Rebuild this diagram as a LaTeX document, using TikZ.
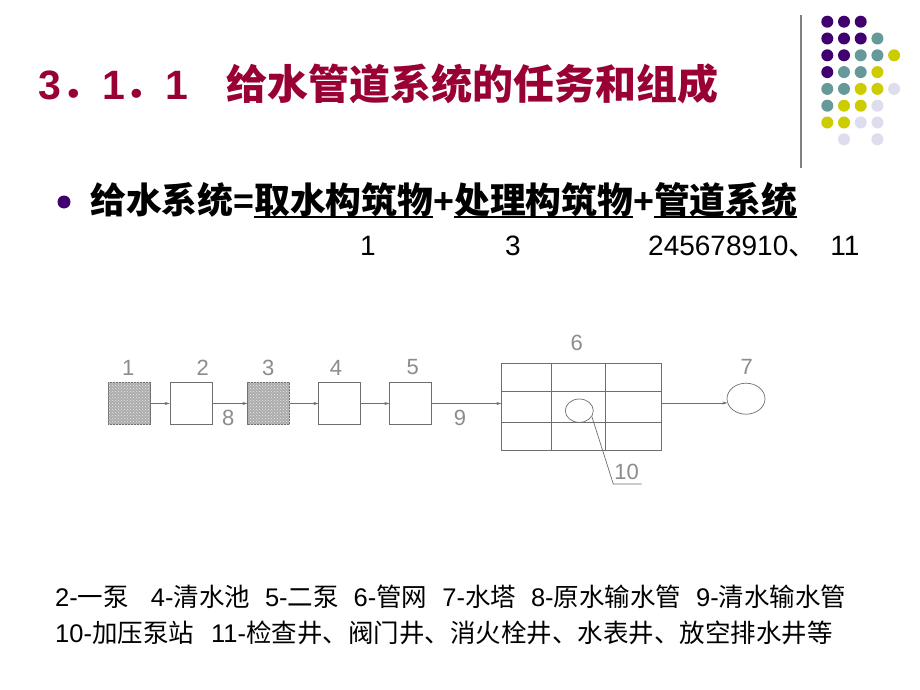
\documentclass[tikz,border=0pt]{standalone}
\usepackage{fontspec}
\setmainfont{Liberation Sans}
\newfontfamily\cjk{Noto Sans CJK SC}
\usetikzlibrary{arrows.meta,patterns,shapes.geometric}
\definecolor{titlered}{RGB}{153,0,51}
\definecolor{dpurple}{RGB}{64,0,112}
\definecolor{dteal}{RGB}{102,153,153}
\definecolor{dyellow}{RGB}{204,204,0}
\definecolor{dlav}{RGB}{221,221,238}
\definecolor{cadline}{RGB}{110,110,110}
\definecolor{cadtext}{RGB}{140,140,140}
\definecolor{cadfill}{RGB}{172,172,172}
\newcommand\myul[1]{\setbox0\hbox{#1}\rlap{\rule[-4.5pt]{\wd0}{1.6pt}}\box0}
\tikzset{
  cadbox/.style={draw=cadline, line width=0.7pt, minimum width=42pt, minimum height=42.5pt, inner sep=0},
  cadfilled/.style={cadbox, fill=cadfill, postaction={pattern=crosshatch dots, pattern color=white!85!gray}},
  cadarrow/.style={draw=cadline, line width=0.6pt, -{Stealth[length=5pt,width=3pt]}},
  cadline/.style={draw=cadline, line width=0.7pt},
  cadlabel/.style={text=cadtext, font=\fontsize{22}{24}\selectfont, inner sep=0},
  dot/.style={circle, inner sep=0, minimum size=12pt}
}
\begin{document}
\begin{tikzpicture}[x=1pt,y=-1pt]
\path[use as bounding box, fill=white] (0,0) rectangle (920,690);

% decoration top right
\draw[gray, line width=1.5pt] (801,15) -- (801,168);
\foreach \c/\r/\col in {
 0/0/dpurple,1/0/dpurple,2/0/dpurple,
 0/1/dpurple,1/1/dpurple,2/1/dpurple,3/1/dteal,
 0/2/dpurple,1/2/dpurple,2/2/dteal,3/2/dteal,4/2/dyellow,
 0/3/dpurple,1/3/dteal,2/3/dteal,3/3/dyellow,
 0/4/dteal,1/4/dteal,2/4/dyellow,3/4/dyellow,4/4/dlav,
 0/5/dteal,1/5/dyellow,2/5/dyellow,3/5/dlav,
 0/6/dyellow,1/6/dyellow,2/6/dlav,3/6/dlav,
 1/7/dlav,3/7/dlav}
 \fill[\col] (827.3+16.7*\c, 21.7+16.8*\r) circle (6pt);

% title
\node[anchor=base west, inner sep=0, text=titlered, font=\fontsize{41}{45}\selectfont\bfseries] (title) at (38,100)
  {3{\cjk ．}1{\cjk ．}1\hspace{38pt}{\cjk 给水管道系统的任务和组成}};

% bullet line
\node[dot, fill=dpurple, minimum size=13pt] (bullet) at (64,202) {};
\node[anchor=base west, inner sep=0, font=\fontsize{35.8}{40}\selectfont\bfseries] (eq) at (90,213)
  {{\cjk 给水系统}=\myul{\cjk 取水构筑物}+\myul{\cjk 处理构筑物}+\myul{\cjk 管道系统}};

% numbers
\node[anchor=base, inner sep=0, font=\fontsize{28}{30}\selectfont] (n1) at (368,255) {1};
\node[anchor=base, inner sep=0, font=\fontsize{28}{30}\selectfont] (n3) at (513,255) {3};
\node[anchor=base west, inner sep=0, font=\fontsize{28}{30}\selectfont] (nrest) at (648,255) {245678910{\cjk 、}\hspace{14pt}11};

% flow diagram
\node[cadfilled] (b1) at (129,403.5) {};
\node[cadbox] (b2) at (191,403.5) {};
\node[cadfilled] (b3) at (268.8,403.5) {};
\node[cadbox] (b4) at (339.8,403.5) {};
\node[cadbox] (b5) at (410.8,403.5) {};
\node[cadbox, minimum width=160pt, minimum height=86.7pt] (grid) at (581.7,406.7) {};
\draw[cadline] (551.7,363.3) -- (551.7,450);
\draw[cadline] (605,363.3) -- (605,450);
\draw[cadline] (501.7,391.7) -- (661.7,391.7);
\draw[cadline] (501.7,422.3) -- (661.7,422.3);
\node[draw=cadline, line width=0.7pt, ellipse, minimum width=28pt, minimum height=23.4pt, inner sep=0] (p10) at (579.3,410.7) {};
\node[draw=cadline, line width=0.7pt, ellipse, minimum width=38pt, minimum height=31pt, inner sep=0] (tower) at (746,398.7) {};

\draw[cadarrow] (b1.east) -- (b2.west);
\draw[cadarrow] (b2.east) -- (b3.west);
\draw[cadarrow] (b3.east) -- (b4.west);
\draw[cadarrow] (b4.east) -- (b5.west);
\draw[cadarrow] (b5.east) -- (b5.east -| grid.west);
\draw[cadarrow] (grid.east |- tower.193) -- (tower.193);

\coordinate (k1) at (613.3,484);
\coordinate (k2) at (641.7,484);
\draw[cadline] (p10.-25) -- (k1) -- (k2);

\node[cadlabel] (l1) at (128.3,368.3) {1};
\node[cadlabel] (l2) at (202.7,368) {2};
\node[cadlabel] (l3) at (268.3,368) {3};
\node[cadlabel] (l4) at (336,368) {4};
\node[cadlabel] (l5) at (412.7,366.7) {5};
\node[cadlabel] (l8) at (228.3,418.3) {8};
\node[cadlabel] (l9) at (460,418.3) {9};
\node[cadlabel] (l6) at (576.7,343.3) {6};
\node[cadlabel] (l7) at (746.7,366.7) {7};
\node[cadlabel] (l10) at (626.7,471.7) {10};

% legend
\node[anchor=base west, inner sep=0, font=\fontsize{25.5}{28}\selectfont] (leg1) at (55,606)
  {2-{\cjk 一泵}\hspace{22pt}4-{\cjk 清水池}\hspace{15pt}5-{\cjk 二泵}\hspace{15pt}6-{\cjk 管网}\hspace{15pt}7-{\cjk 水塔}\hspace{15pt}8-{\cjk 原水输水管}\hspace{15pt}9-{\cjk 清水输水管}};
\node[anchor=base west, inner sep=0, font=\fontsize{25.5}{28}\selectfont] (leg2) at (55,642)
  {10-{\cjk 加压泵站}\hspace{17pt}11-{\cjk 检查井、阀门井、消火栓井、水表井、放空排水井等}};
\end{tikzpicture}
\end{document}
